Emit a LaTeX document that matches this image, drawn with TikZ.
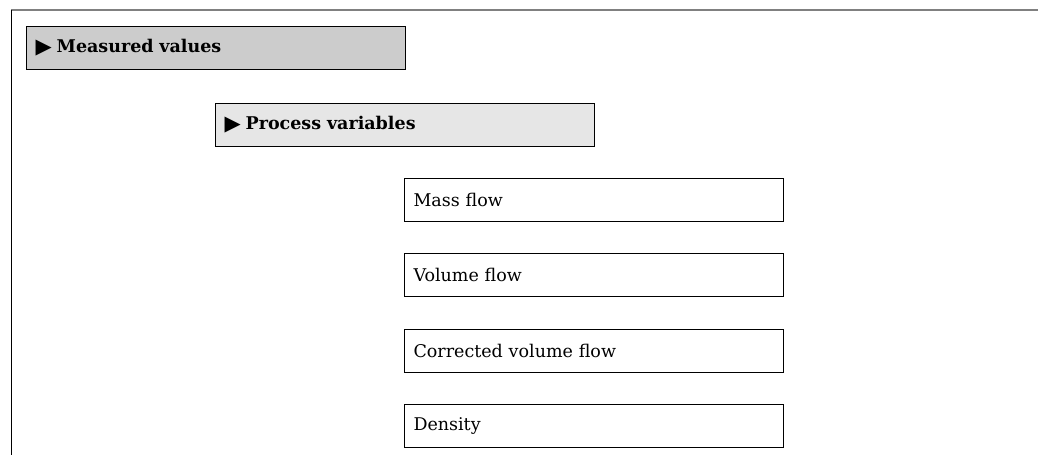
\documentclass[tikz,border=0pt]{standalone}
\usepackage{fontspec}
\setmainfont{DejaVu Serif}
\newfontfamily\symfont{DejaVu Sans}
\usetikzlibrary{positioning}
\definecolor{menugray}{HTML}{CCCCCC}
\definecolor{subgray}{HTML}{E6E6E6}
\definecolor{framegray}{HTML}{808080}
\newcommand{\menuarrow}{{\symfont\fontsize{21}{21}\selectfont\raisebox{-1pt}{▶}}\hspace{5pt}}

\begin{document}
\begin{tikzpicture}[
  x=1pt, y=1pt,
  menu/.style={draw, line width=1pt, anchor=north west, minimum width=379pt, minimum height=43pt, text width=361pt, inner xsep=9pt, align=left, font=\fontsize{17.5}{21}\selectfont},
  item/.style={menu}
]
\useasboundingbox (0,0) rectangle (1038,-455);
\draw[framegray, line width=1.5pt] (11,-10) -- (1038,-10);
\draw[line width=0.8pt] (11,-10) -- (11,-455);

\node[menu, fill=menugray] (measured) at (26,-26) {\menuarrow\textbf{Measured values}};
\node[menu, fill=subgray] (process) at (215,-103) {\menuarrow\textbf{Process variables}};

\node[item] (mass) at (404,-178) {Mass flow};
\node[item, below=31.3pt of mass] (volume) {Volume flow};
\node[item, below=31.3pt of volume] (corrected) {Corrected volume flow};
\node[item, below=31.3pt of corrected] (density) {Density};
\end{tikzpicture}
\end{document}
